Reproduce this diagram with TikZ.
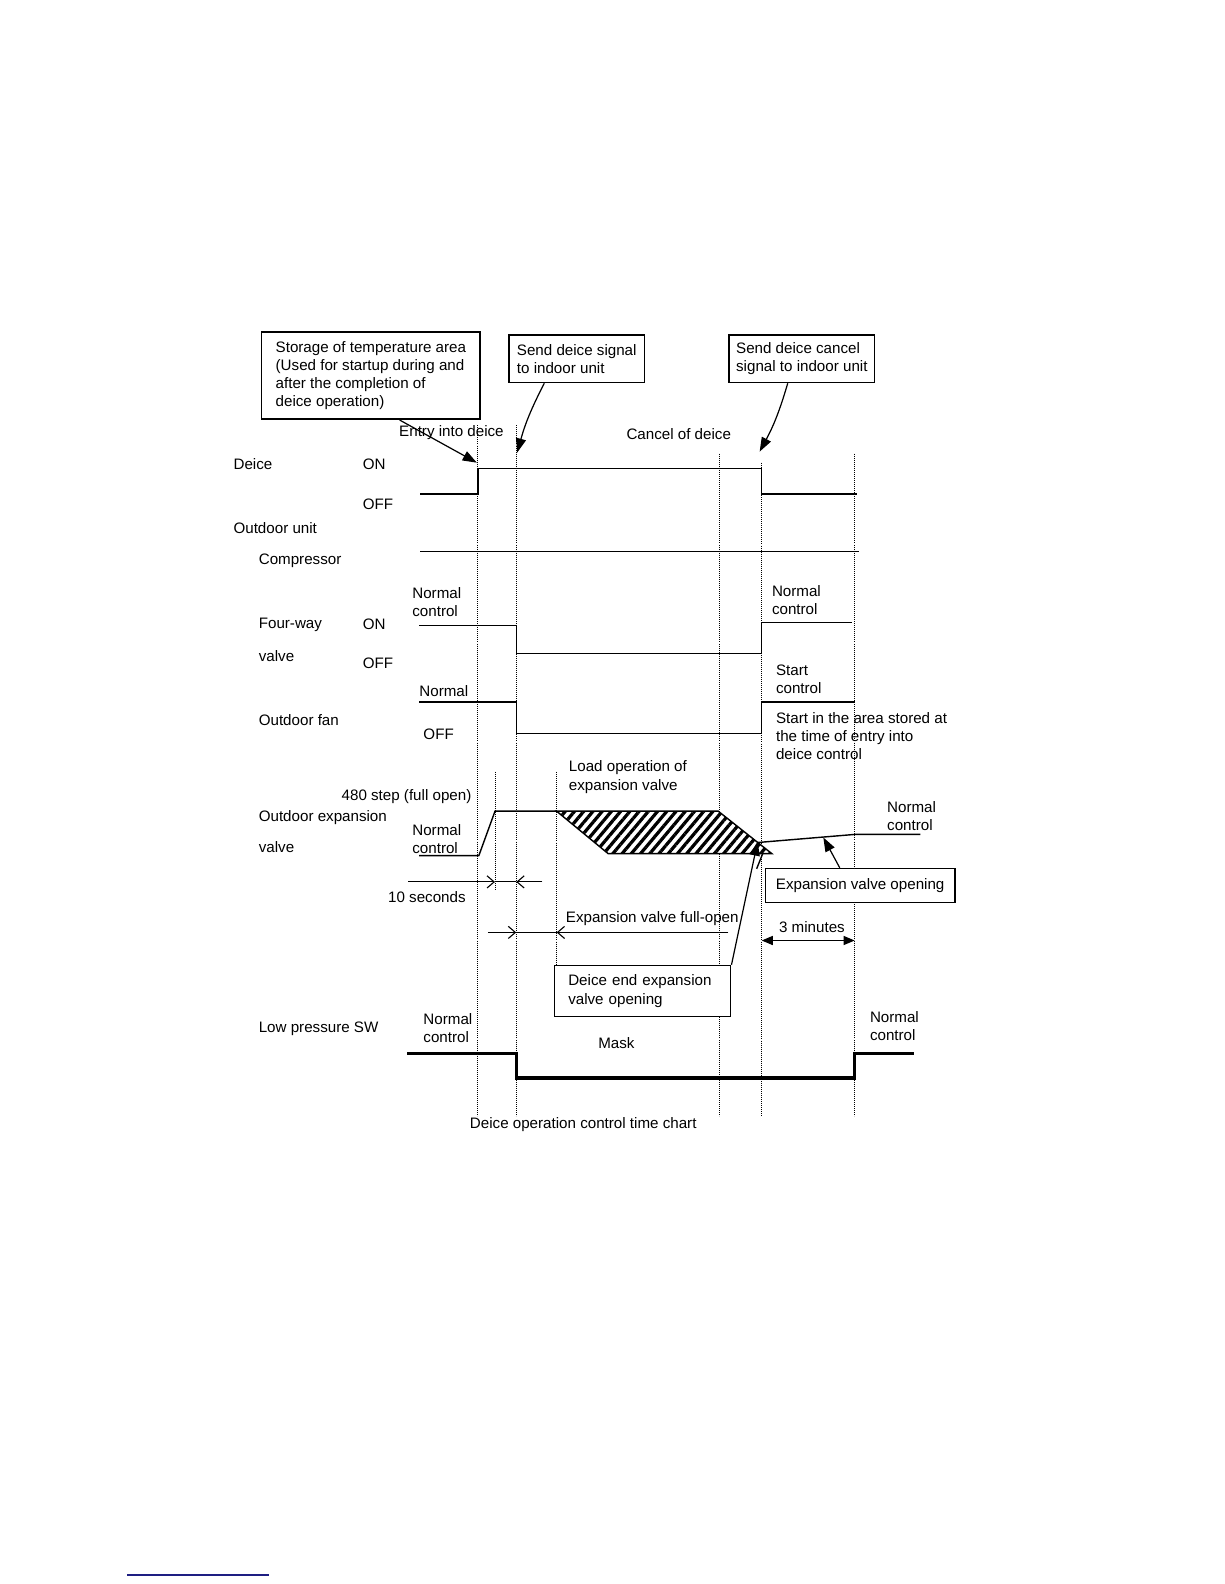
\documentclass[tikz,border=0pt]{standalone}
\usepackage{fontspec}
\setmainfont{Liberation Sans}
\usetikzlibrary{arrows.meta,patterns.meta,positioning}
\definecolor{linkblue}{RGB}{30,30,130}

\begin{document}
\begin{tikzpicture}[x=1pt,y=-1pt,font=\fontsize{15}{18}\selectfont,
		txt/.style={inner sep=0pt,anchor=base west},
		mtxt/.style={inner sep=0pt,anchor=north west,align=left},
		note/.style={draw,line width=1.4pt,fill=white,align=left,anchor=north west,inner ysep=0pt},
		signal/.style={line width=1.4pt},
		mask/.style={line width=3.2pt},
		timeline/.style={line width=0.9pt,dash pattern=on 0.9pt off 1.1pt},
		pointer/.style={line width=1.2pt,-{Triangle[length=14pt,width=10pt]}},
		span/.style={line width=1.1pt,-{Straight Barb[length=7pt,width=12pt]}}]
		\useasboundingbox (0,0) rectangle (1212,1568);

		\foreach \xx/\ya/\yb in {473/421/1105, 511/421/1105, 490/764/881, 551/764/955, 712/449/1105, 754/458/1105, 846/449/1105}
			\draw[timeline] (\xx,\ya) -- (\xx,\yb);

		\draw[signal] (416,489) -- (473,489) -- (473,464) -- (754,464) -- (754,489) -- (848,489);
		\draw[signal] (416,546) -- (850,546);
		\draw[signal] (415,619) -- (511,619) -- (511,647) -- (754,647) -- (754,616) -- (843,616);
		\draw[signal] (415,695) -- (511,695) -- (511,726) -- (754,726) -- (754,695) -- (846,695);
		\draw[signal] (415,847) -- (474,847) -- (490,803) -- (551,803);
		\draw[signal,preaction={fill=white},pattern={Lines[angle=50,distance=7pt,line width=3.2pt]}]
			(551,803) -- (711,803) -- (764,845) -- (602,845) -- cycle;
		\draw[signal] (750,834) -- (846,826) -- (911,826);
		\draw[signal] (755,845) -- (749,860);
		\draw[mask] (403,1043) -- (511,1043) -- (511,1067) -- (846,1067) -- (846,1043) -- (905,1043);

		\draw[span] (404,873) -- (490,873);
		\draw[line width=1.1pt] (490,873) -- (511,873);
		\draw[span] (537,873) -- (511,873);
		\draw[span] (483,923) -- (511,923);
		\draw[line width=1.1pt] (511,923) -- (551,923);
		\draw[span] (721,923) -- (551,923);
		\draw[line width=1.2pt,{Triangle[length=11pt,width=9pt]}-{Triangle[length=11pt,width=9pt]}] (754,931) -- (846,931);

		\node[txt] (deicelbl) at (231,465) {Deice};
		\node[txt] (ondeice) at (359,465) {ON};
		\node[txt] (offdeice) at (359,504) {OFF};
		\node[txt] (unitlbl) at (231,528) {Outdoor unit};
		\node[txt] (complbl) at (256,559) {Compressor};
		\node[mtxt] (fourlbl) at (256,612) {Four-way\\[14pt]valve};
		\node[mtxt] (ncfour) at (408,581) {Normal\\control};
		\node[txt] (onfour) at (359,623) {ON};
		\node[txt] (offfour) at (359,662) {OFF};
		\node[mtxt] (ncfourr) at (764,579) {Normal\\control};
		\node[txt] (normfan) at (415,689) {Normal};
		\node[txt] (fanlbl) at (256,718) {Outdoor fan};
		\node[txt] (offfan) at (419,732) {OFF};
		\node[mtxt] (startctl) at (768,658) {Start\\control};
		\node[mtxt] (startarea) at (768,705) {Start in the area stored at\\the time of entry into\\deice control};
		\node[mtxt] (loadop) at (563,753) {Load operation of\\expansion valve};
		\node[txt] (steplbl) at (338,792) {480 step (full open)};
		\node[mtxt] (explbl) at (256,802) {Outdoor expansion\\[13pt]valve};
		\node[mtxt] (ncexp) at (408,816) {Normal\\control};
		\node[mtxt] (ncexpr) at (878,793) {Normal\\control};
		\node[txt] (tensec) at (384,893) {10 seconds};
		\node[txt] (fullopen) at (560,913) {Expansion valve full-open};
		\node[txt] (threemin) at (771,923) {3 minutes};
		\node[txt] (lowlbl) at (256,1022) {Low pressure SW};
		\node[mtxt] (nclowl) at (419,1003) {Normal\\control};
		\node[txt] (masklbl) at (592,1038) {Mask};
		\node[mtxt] (nclowr) at (861,1001) {Normal\\control};
		\node[txt] (caption) at (465,1117) {Deice operation control time chart};
		\node[txt] (entry) at (395,432) {Entry into deice};
		\node[txt] (cancel) at (620,435) {Cancel of deice};

		\node[note,inner xsep=14pt,minimum height=86pt,line width=1.8pt] (storebox) at (258,328)
			{Storage of temperature area\\(Used for startup during and\\after the completion of\\deice operation)};
		\node[note,inner xsep=8pt,minimum height=47pt] (signalbox) at (503,331) {Send deice signal\\to indoor unit};
		\node[note,inner xsep=7pt,minimum height=47pt] (cancelbox) at (721,331) {Send deice cancel\\signal to indoor unit};
		\node[note,inner xsep=10.5pt,minimum height=34pt,line width=1.2pt] (openbox) at (757,859) {Expansion valve opening};
		\node[note,inner xsep=14pt,text width=147pt,minimum height=51pt,line width=1.1pt] (endbox) at (548,955)
			{Deice end expansion\\valve opening};

		\coordinate (entrytip) at (472,458);
		\coordinate (signaltip) at (512,448);
		\coordinate (canceltip) at (752,447);
		\coordinate (endtip) at (750,833);
		\coordinate (opentip) at (815,829);

		\draw[pointer] (storebox.303) -- (entrytip);
		\draw[pointer] (signalbox.217) to[bend right=6] (signaltip);
		\draw[pointer] (cancelbox.240) to[bend left=6] (canceltip);
		\draw[pointer] (endbox.north east) -- (endtip);
		\draw[pointer] (openbox.139) -- (opentip);

		\draw[line width=1.8pt,linkblue] (126,1559) -- (266,1559);
	\end{tikzpicture}
\end{document}
